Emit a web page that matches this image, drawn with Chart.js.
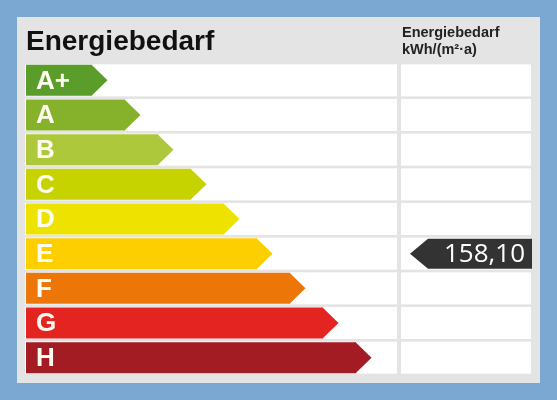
<!DOCTYPE html>
<html>
<head>
<meta charset="utf-8">
<script src="https://cdn.jsdelivr.net/npm/chart.js@4.4.1/dist/chart.umd.min.js"></script>
<style>
  html, body { margin: 0; padding: 0; background: #7ba7d3; }
  #wrap { width: 557px; height: 400px; position: relative; }
</style>
</head>
<body>
<div id="wrap"><canvas id="chart"></canvas></div>
<script>
// ── DATA ─────────────────────────────────────────────────────
const classes = ["A+", "A", "B", "C", "D", "E", "F", "G", "H"];
// relative arrow length of each class bar
const arrowLength = [2, 3, 4, 5, 6, 7, 8, 9, 10];
const classColors = ["#5a9d2b", "#86b12a", "#adc93b", "#c7d300", "#eee300",
                     "#fdcf00", "#ec7708", "#e32421", "#a31b23"];
const demandValue = 158.10;
const demandClass = "E";
const titleText = "Energiebedarf";
const colHeader = ["Energiebedarf", "kWh/(m²·a)"];

// ── LAYOUT PLUGIN: panel, rows, arrow tips, labels, marker ──
const energyPlugin = {
  id: "energyLabel",
  beforeDraw(chart) {
    const { ctx, scales: { y }, chartArea } = chart;
    const band = (y.bottom - y.top) / classes.length;
    ctx.save();
    ctx.fillStyle = "#7ba7d3";
    ctx.fillRect(0, 0, chart.width, chart.height);
    ctx.fillStyle = "#e4e4e4";
    ctx.fillRect(17, 17, 523, 366);
    ctx.fillStyle = "#ffffff";
    classes.forEach((c, i) => {
      const cy = y.getPixelForValue(i);
      ctx.fillRect(chartArea.left - 1, cy - 16, 372, 32);
      ctx.fillRect(401, cy - 16, 130, 32);
    });
    ctx.restore();
  },
  afterDatasetsDraw(chart) {
    const { ctx, scales: { y } } = chart;
    const meta = chart.getDatasetMeta(0);
    ctx.save();
    meta.data.forEach((bar, i) => {
      const h = bar.height;
      const top = bar.y - h / 2;
      // arrow tip
      ctx.fillStyle = classColors[i];
      ctx.beginPath();
      ctx.moveTo(bar.x - 0.5, top);
      ctx.lineTo(bar.x + h / 2, bar.y);
      ctx.lineTo(bar.x - 0.5, top + h);
      ctx.closePath();
      ctx.fill();
      // class letter
      ctx.fillStyle = "#fffdf0";
      ctx.font = "bold 26px 'Liberation Sans', Arial, sans-serif";
      ctx.textBaseline = "middle";
      ctx.textAlign = "left";
      ctx.fillText(classes[i], bar.base + 10, bar.y + 1);
    });

    // titles
    ctx.fillStyle = "#111";
    ctx.textBaseline = "alphabetic";
    ctx.font = "bold 28px 'Liberation Sans', Arial, sans-serif";
    ctx.fillText(titleText, 26, 50);
    ctx.font = "bold 14.5px 'Liberation Sans', Arial, sans-serif";
    ctx.fillStyle = "#222";
    ctx.fillText(colHeader[0], 402, 37);
    ctx.fillText(colHeader[1], 402, 54);

    // demand marker
    const my = y.getPixelForValue(classes.indexOf(demandClass));
    const mh = 30;
    ctx.fillStyle = "#333333";
    ctx.beginPath();
    ctx.moveTo(410, my);
    ctx.lineTo(428, my - mh / 2);
    ctx.lineTo(532, my - mh / 2);
    ctx.lineTo(532, my + mh / 2);
    ctx.lineTo(428, my + mh / 2);
    ctx.closePath();
    ctx.fill();
    ctx.fillStyle = "#ffffff";
    ctx.font = "26px 'Open Sans', sans-serif";
    ctx.textAlign = "right";
    ctx.textBaseline = "middle";
    ctx.fillText(demandValue.toFixed(2).replace(".", ","), 525, my + 1);
    ctx.restore();
  }
};

new Chart(document.getElementById("chart"), {
  type: "bar",
  data: {
    labels: classes,
    datasets: [{
      data: arrowLength,
      backgroundColor: classColors,
      borderWidth: 0,
      categoryPercentage: 1,
      barPercentage: 0.894,
    }],
  },
  options: {
    indexAxis: "y",
    responsive: true,
    maintainAspectRatio: false,
    animation: false,
    layout: { padding: { left: 26, right: 160, top: 63, bottom: 25 } },
    plugins: { legend: { display: false }, tooltip: { enabled: false } },
    scales: {
      x: { display: false, min: 0, max: 11.24 },
      y: { display: false },
    },
  },
  plugins: [energyPlugin],
});
</script>
</body>
</html>
